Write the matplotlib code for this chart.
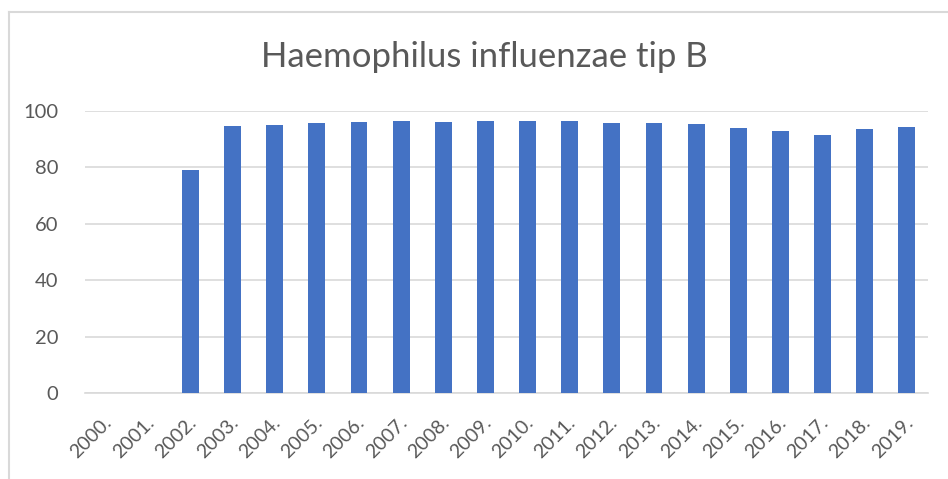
import matplotlib
matplotlib.use("Agg")
import matplotlib.pyplot as plt
from matplotlib.lines import Line2D
from matplotlib.transforms import ScaledTranslation

years = [f"{y}." for y in range(2000, 2020)]
values = [0, 0, 79.0, 94.6, 95.2, 95.8, 96.2, 96.3, 96.2, 96.5,
          96.5, 96.3, 95.9, 95.6, 95.3, 94.0, 92.8, 91.4, 93.6, 94.4]
yticks = [0, 20, 40, 60, 80, 100]
title = "Haemophilus influenzae tip B"

plt.rcParams['font.family'] = ['Lato', 'DejaVu Sans']

W, H = 948, 479
fig = plt.figure(figsize=(W / 100, H / 100), dpi=100)
ax = fig.add_axes([85 / W, (H - 393) / H, 843 / W, 282 / H])

x = list(range(len(years)))
ax.bar(x, values, width=0.4, color="#4472C4", zorder=3)
ax.set_xlim(-0.5, len(years) - 0.5)
ax.set_ylim(0, 100)
ax.set_yticks(yticks)
ax.set_yticklabels([str(v) for v in yticks], fontsize=14.5, color="#595959")
ax.yaxis.grid(True, color="#d9d9d9", linewidth=1.2, zorder=0)
ax.set_xticks(x)
ax.set_xticklabels(years, rotation=45, ha="right", va="top",
                   rotation_mode="anchor", fontsize=14, color="#595959")
ax.tick_params(axis="both", length=0)
ax.tick_params(axis="y", pad=19)
ax.tick_params(axis="x", pad=15)
offset = ScaledTranslation(-3 / 100, 0, fig.dpi_scale_trans)
for lab in ax.get_xticklabels():
    lab.set_transform(lab.get_transform() + offset)
for s in ["top", "right", "left"]:
    ax.spines[s].set_visible(False)
ax.spines["bottom"].set_color("#d9d9d9")
ax.spines["bottom"].set_linewidth(1.2)

fig.text(484 / W, 1 - 57 / H, title, ha="center", va="center",
         fontsize=25, color="#595959")

# chart frame (left and top edges)
fig.add_artist(Line2D([8.5 / W, 8.5 / W], [0, 1 - 12 / H], transform=fig.transFigure,
                      color="#d9d9d9", linewidth=1.5))
fig.add_artist(Line2D([8.5 / W, 1], [1 - 12 / H, 1 - 12 / H], transform=fig.transFigure,
                      color="#d9d9d9", linewidth=1.5))

fig.savefig("out.png", dpi=100)
